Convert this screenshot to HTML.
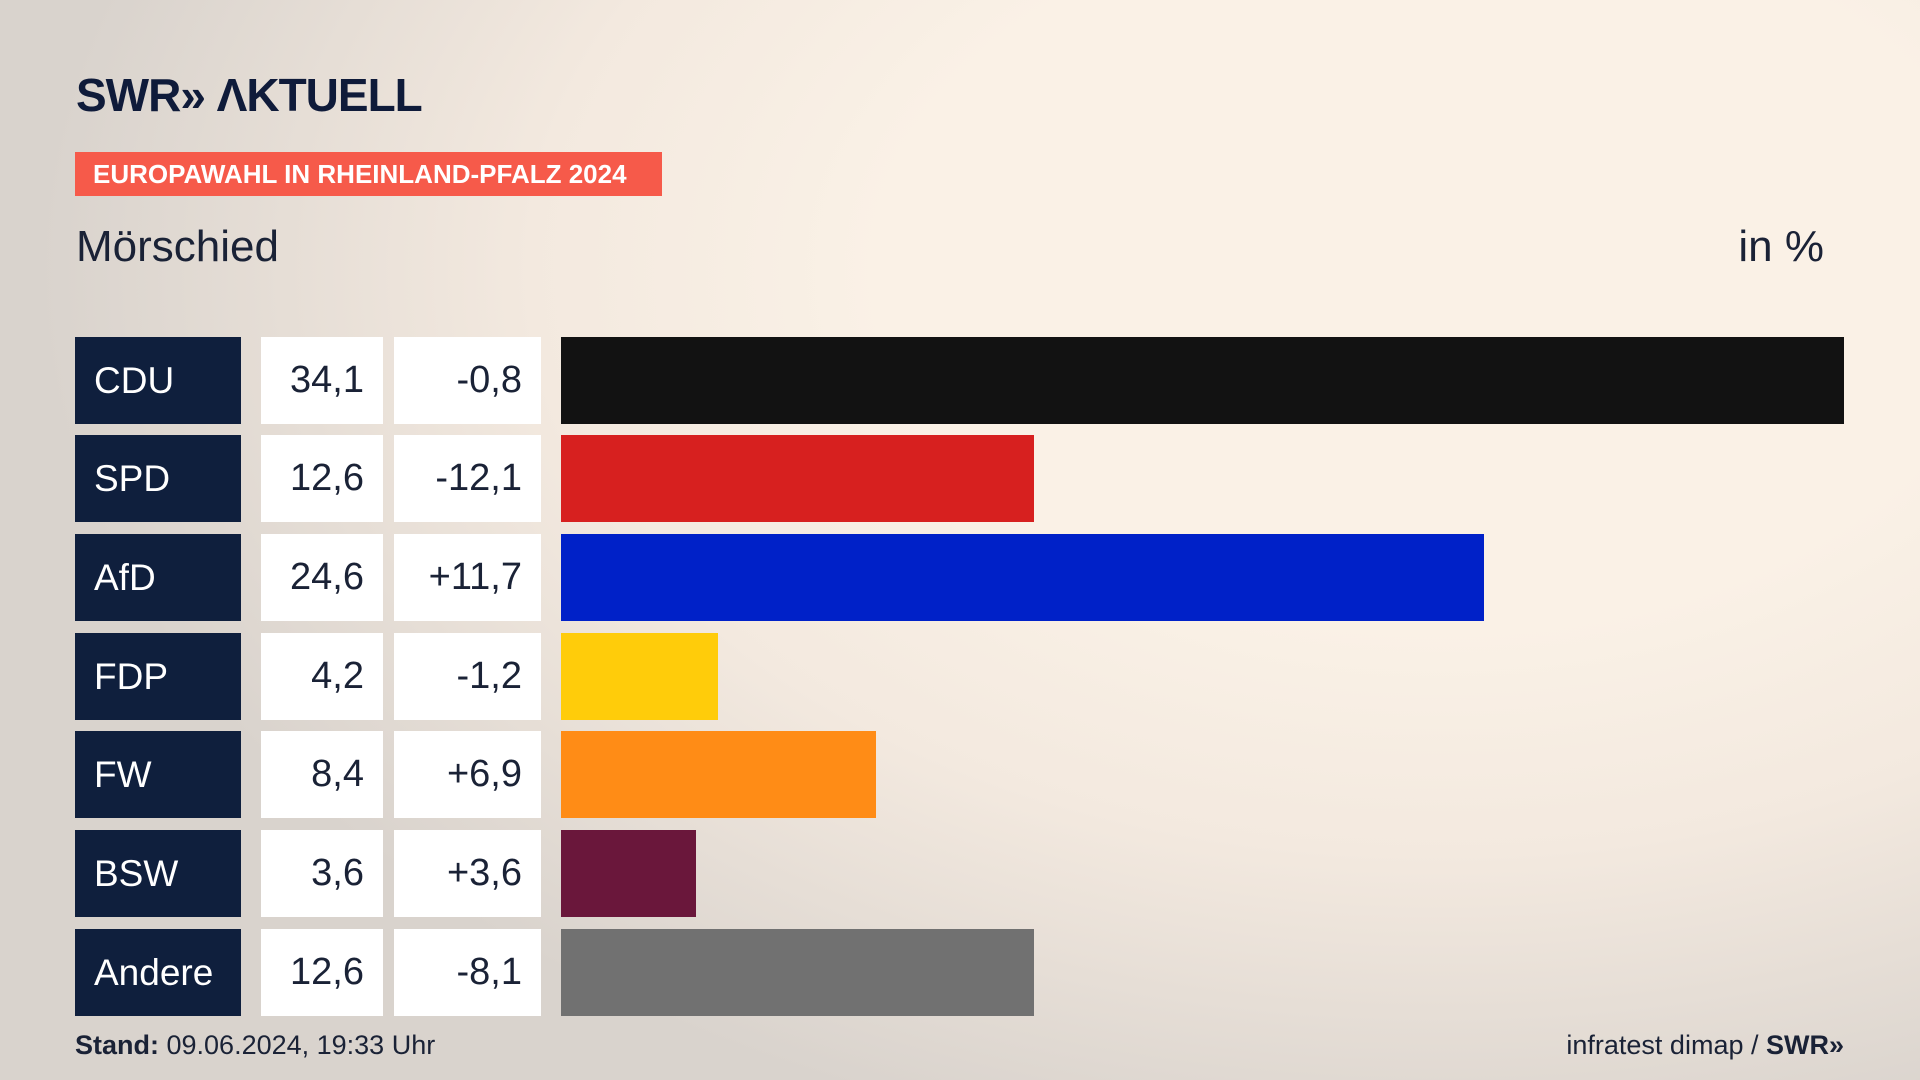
<!DOCTYPE html>
<html><head><meta charset="utf-8"><style>
*{margin:0;padding:0;box-sizing:border-box}
body{width:1920px;height:1080px;overflow:hidden;font-family:"Liberation Sans",sans-serif;position:relative;
background:radial-gradient(ellipse 1400px 900px at 75% 25%,#faf1e6 40%,#f3e9df 65%,#d9d3cd 100%);}
.logo{position:absolute;left:76px;top:68px;font-size:46px;font-weight:bold;color:#0f1b3a;letter-spacing:-1px}
.badge{position:absolute;left:75px;top:152px;width:587px;height:44px;background:#f65a4a;color:#fff;font-weight:bold;font-size:26px;line-height:44px;padding-left:18px}
.title{position:absolute;left:76px;top:222px;font-size:44px;color:#1a2236}
.unit{position:absolute;right:96px;top:222px;font-size:44px;color:#1a2236}
.row{position:absolute;left:0;height:87px}
.p{position:absolute;left:75px;width:166px;height:87px;background:#0f1f3d;color:#fff;font-size:37px;line-height:87px;padding-left:19px}
.v{position:absolute;left:261px;width:122px;height:87px;background:#fff;color:#1a2236;font-size:38px;line-height:87px;text-align:right;padding-right:19px}
.d{position:absolute;left:394px;width:147px;height:87px;background:#fff;color:#1a2236;font-size:38px;line-height:87px;text-align:right;padding-right:19px}
.b{position:absolute;left:561px;height:87px}
.foot{position:absolute;top:1030px;font-size:27px;color:#1a2236}
</style></head><body>
<div class="logo">SWR&#x00BB; ΛKTUELL</div>
<div class="badge">EUROPAWAHL IN RHEINLAND-PFALZ 2024</div>
<div class="title">Mörschied</div>
<div class="unit">in %</div>
<div class="row" style="top:337px"><div class="p">CDU</div><div class="v">34,1</div><div class="d">-0,8</div><div class="b" style="width:1283px;background:#121212"></div></div>
<div class="row" style="top:435px"><div class="p">SPD</div><div class="v">12,6</div><div class="d">-12,1</div><div class="b" style="width:473px;background:#d7201f"></div></div>
<div class="row" style="top:534px"><div class="p">AfD</div><div class="v">24,6</div><div class="d">+11,7</div><div class="b" style="width:923px;background:#0021c8"></div></div>
<div class="row" style="top:633px"><div class="p">FDP</div><div class="v">4,2</div><div class="d">-1,2</div><div class="b" style="width:157px;background:#ffcc0a"></div></div>
<div class="row" style="top:731px"><div class="p">FW</div><div class="v">8,4</div><div class="d">+6,9</div><div class="b" style="width:315px;background:#ff8c16"></div></div>
<div class="row" style="top:830px"><div class="p">BSW</div><div class="v">3,6</div><div class="d">+3,6</div><div class="b" style="width:135px;background:#6a173b"></div></div>
<div class="row" style="top:929px"><div class="p">Andere</div><div class="v">12,6</div><div class="d">-8,1</div><div class="b" style="width:473px;background:#717171"></div></div>
<div class="foot" style="left:75px"><b>Stand:</b> 09.06.2024, 19:33 Uhr</div>
<div class="foot" style="right:76px">infratest dimap / <b>SWR&#x00BB;</b></div>
</body></html>
